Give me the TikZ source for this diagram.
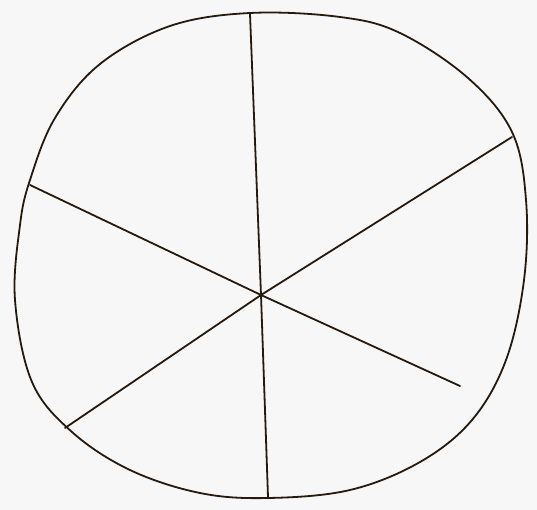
\documentclass[tikz,border=0pt]{standalone}
\begin{document}
\begin{tikzpicture}[x=1pt,y=-1pt,
  ink/.style={draw=black!80!brown,line width=1.8pt,line cap=round,line join=round}]
\fill[gray!6] (0,0) rectangle (537,510);
\useasboundingbox (0,0) rectangle (537,510);
\coordinate (c) at (261,295);
\draw[ink] plot[smooth cycle,tension=0.6] coordinates {
 (250,13) (340,17) (400,33) (468,78) (512,132) (526,200) (524,280) (506,360)
 (472,420) (420,462) (350,490) (268,498) (200,493) (130,470) (72,432)
 (32,382) (15,300) (20,225) (30,180) (55,118) (100,64) (170,26)};
\draw[ink] (250,14) -- (c) -- (268,497);
\draw[ink] (30,185) -- (c) -- (460,386);
\draw[ink] (65,428) -- (c) -- (512,137);
\end{tikzpicture}
\end{document}
